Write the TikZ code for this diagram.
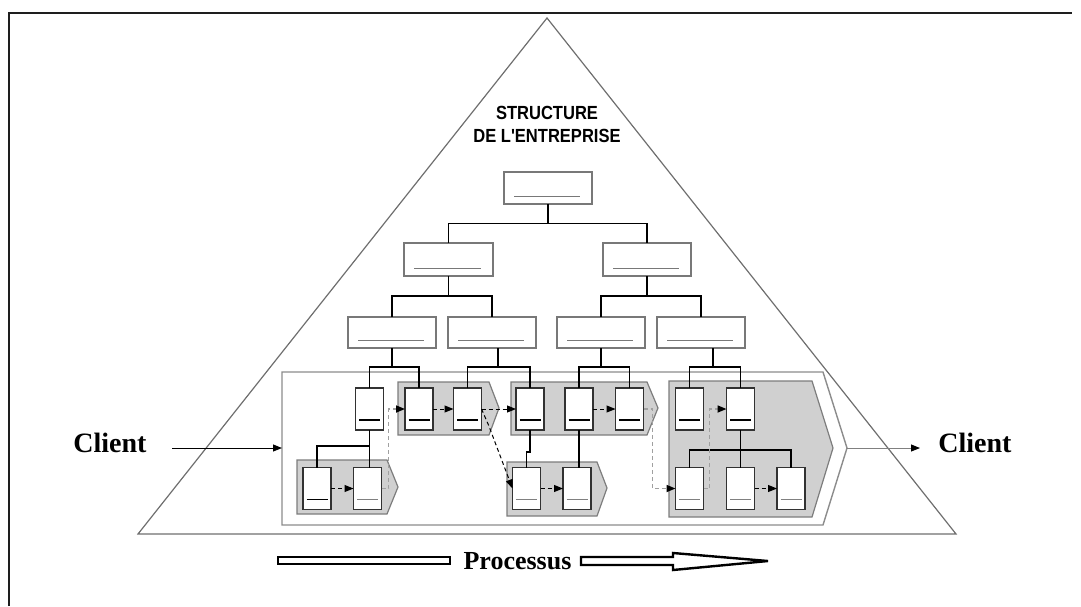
\documentclass[tikz,border=0pt]{standalone}
\usepackage{fontspec}
\usepackage{graphicx}
\setmainfont{Liberation Serif}
\newfontfamily\titlefont{Liberation Sans}
\usetikzlibrary{arrows.meta,calc}
\definecolor{frameline}{RGB}{30,30,30}
\definecolor{triline}{RGB}{110,110,110}
\definecolor{arealine}{RGB}{140,140,140}
\definecolor{shapefill}{RGB}{208,208,208}
\definecolor{shapeline}{RGB}{125,125,125}
\definecolor{orgline}{RGB}{120,120,120}
\definecolor{boxline}{RGB}{50,50,50}
\definecolor{dashgrey}{RGB}{160,160,160}
\begin{document}
\begin{tikzpicture}[x=1pt,y=-1pt,
  sbox/.style={draw=boxline, fill=white, line width=1.3pt, minimum width=28pt, minimum height=42pt,
    inner sep=0pt, outer sep=0pt,
    path picture={\draw[line width=1.5pt, #1] ([xshift=3.5pt,yshift=10pt]path picture bounding box.south west) -- ([xshift=-3.5pt,yshift=10pt]path picture bounding box.south east);}},
  sbox/.default=black,
  obox/.style={draw=orgline, fill=white, line width=1.2pt, minimum width=88pt, minimum height=32pt,
    inner sep=0pt, outer sep=0pt,
    path picture={\draw[orgline, line width=1.2pt] ([xshift=10pt,yshift=7.5pt]path picture bounding box.south west) -- ([xshift=-12pt,yshift=7.5pt]path picture bounding box.south east);}},
  tline/.style={line width=1.1pt, black},
  chev/.style={fill=shapefill, draw=shapeline, line width=1.2pt},
  bflow/.style={line width=1pt, dash pattern=on 4pt off 3pt, -{Triangle[length=9pt,width=7pt]}},
  gflow/.style={line width=1.6pt, draw=dashgrey, dash pattern=on 4pt off 3pt, -{Triangle[length=9pt,width=7pt,color=black]}},
  client/.style={font=\fontsize{28}{30}\selectfont\bfseries, inner sep=0pt, anchor=base},
  ttl/.style={font=\titlefont\fontsize{19}{21}\selectfont\bfseries, inner sep=0pt, anchor=base},
  carrow/.style={line width=1pt, -{Triangle[length=9pt,width=7pt,color=black]}},
  fatbar/.style={draw=black, fill=white, line width=2.4pt, line join=miter}
]
\useasboundingbox (0,0) rectangle (1081,606);
% frame
\draw[frameline, line width=2pt] (9,606) -- (9,13) -- (1072,13);

% pyramid
\draw[triline, line width=1.2pt] (547,18) -- (956,534) -- (138,534) -- cycle;

% process area
\draw[arealine, fill=white, line width=1.4pt] (282,372) -- (823,372) -- (847,448) coordinate (areaE) -- (823,525) -- (282,525) -- cycle;
\coordinate (areaW) at (282,448);

% grey chevrons
\draw[chev] (297,460) -- (387,460) -- (398,487) -- (387,514) -- (297,514) -- cycle;
\draw[chev] (398,382) -- (489,382) -- (499,408) -- (489,435) -- (398,435) -- cycle;
\draw[chev] (511,382) -- (647,382) -- (658,408) -- (647,435) -- (511,435) -- cycle;
\draw[chev] (507,462) -- (597,462) -- (607,488) -- (597,516) -- (507,516) -- cycle;
\draw[chev] (669,381) -- (812,381) -- (833,448) -- (812,517) -- (669,517) -- cycle;

% title
\node[ttl] (title1) at (547,119) {\scalebox{0.87}[1]{STRUCTURE}};
\node[ttl] (title2) at (547,142) {\scalebox{0.87}[1]{DE L'ENTREPRISE}};

% org chart
\node[obox] (T) at (548,188) {};
\node[obox, minimum height=33pt, minimum width=89pt] (L2a) at (448.5,259.5) {};
\node[obox, minimum height=33pt] (L2b) at (647,259.5) {};
\node[obox, minimum height=31pt] (L3a) at (392,332.5) {};
\node[obox, minimum height=31pt] (L3b) at (492,332.5) {};
\node[obox, minimum height=31pt] (L3c) at (601,332.5) {};
\node[obox, minimum height=31pt] (L3d) at (701,332.5) {};

% process boxes
\node[sbox] (S) at (369.5,409) {};
\node[sbox] (A1) at (317,488.5) {};
\node[sbox=gray] (A2) at (367.5,488.5) {};
\node[sbox] (B1) at (419,409) {};
\node[sbox] (B2) at (467.5,409) {};
\node[sbox] (C1) at (530,409) {};
\node[sbox] (C2) at (579,409) {};
\node[sbox] (C3) at (629.5,409) {};
\node[sbox=gray] (D1) at (526.5,488.5) {};
\node[sbox=gray] (D2) at (577,488.5) {};
\node[sbox] (E1) at (689.5,409) {};
\node[sbox] (E2) at (740.5,409) {};
\node[sbox=gray] (E3) at (689.5,488.5) {};
\node[sbox=gray] (E4) at (740.5,488.5) {};
\node[sbox=gray] (E5) at (791,488.5) {};

% tree connectors
\draw[tline] (T.south) -- ++(0,19.5) -| (L2a.north);
\draw[tline] (T.south) -- ++(0,19.5) -| (L2b.north);
\draw[tline] (L2a.south) -- ++(0,20) -| (L3a.north);
\draw[tline] (L2a.south) -- ++(0,20) -| (L3b.north);
\draw[tline] (L2b.south) -- ++(0,20) -| (L3c.north);
\draw[tline] (L2b.south) -- ++(0,20) -| (L3d.north);
\draw[tline] (L3a.south) -- ++(0,19) coordinate (f1);
\draw[tline] (S.north) |- (f1) -| (B1.north);
\draw[tline] ([xshift=6pt]L3b.south) -- ++(0,19) coordinate (f2);
\draw[tline] (B2.north) |- (f2) -| (C1.north);
\draw[tline] (L3c.south) -- ++(0,19) coordinate (f3);
\draw[tline] (C2.north) |- (f3) -| (C3.north);
\draw[tline] ([xshift=12pt]L3d.south) -- ++(0,19) coordinate (f4);
\draw[tline] (E1.north) |- (f4) -| (E2.north);
\draw[tline] (S.south) -- (S.south |- A2.north);
\draw[tline] (S.south) -- ++(0,16) -| (A1.north);
\draw[tline] (C1.south) -- ++(0,22) -| (D1.north);
\draw[tline] (C2.south) -- (C2.south |- D2.north);
\draw[tline] (E2.south) -- (E2.south |- E4.north);
\draw[tline] (E2.south) -- ++(0,20) coordinate (f5);
\draw[tline] (E3.north) |- (f5) -| (E5.north);

% flow arrows
\draw[bflow] (A1.east) -- (A2.west);
\draw[gflow] (A2.east) -- ++(7,0) |- (B1.west);
\draw[bflow] (B1.east) -- (B2.west);
\draw[bflow] (B2.east) -- (C1.west);
\draw[bflow] (B2.east) -- ++(7,16) -- (D1.west);
\draw[bflow] (C2.east) -- (C3.west);
\draw[gflow] (C3.east) -- ++(9,0) |- (E3.west);
\draw[bflow] (D1.east) -- (D2.west);
\draw[gflow] (E3.east) -- ++(6,0) |- (E2.west);
\draw[bflow] (E4.east) -- (E5.west);

% clients
\node[client] (clL) at (110,452) {Client};
\node[client] (clR) at (975,452) {Client};
\coordinate (inL) at (172,448);
\coordinate (outR) at (920,448);
\draw[carrow, black] (inL) -- (areaW);
\draw[carrow, draw=gray] (areaE) -- (outR);

% processus
\draw[fatbar] (278,557) rectangle (450,564);
\draw[fatbar] (581,557) -- (673,557) -- (673,553) -- (768,561) -- (673,570) -- (673,565) -- (581,565) -- cycle;
\node[client, font=\fontsize{26}{28}\selectfont\bfseries] (proc) at (517.5,569) {Processus};
\end{tikzpicture}
\end{document}
